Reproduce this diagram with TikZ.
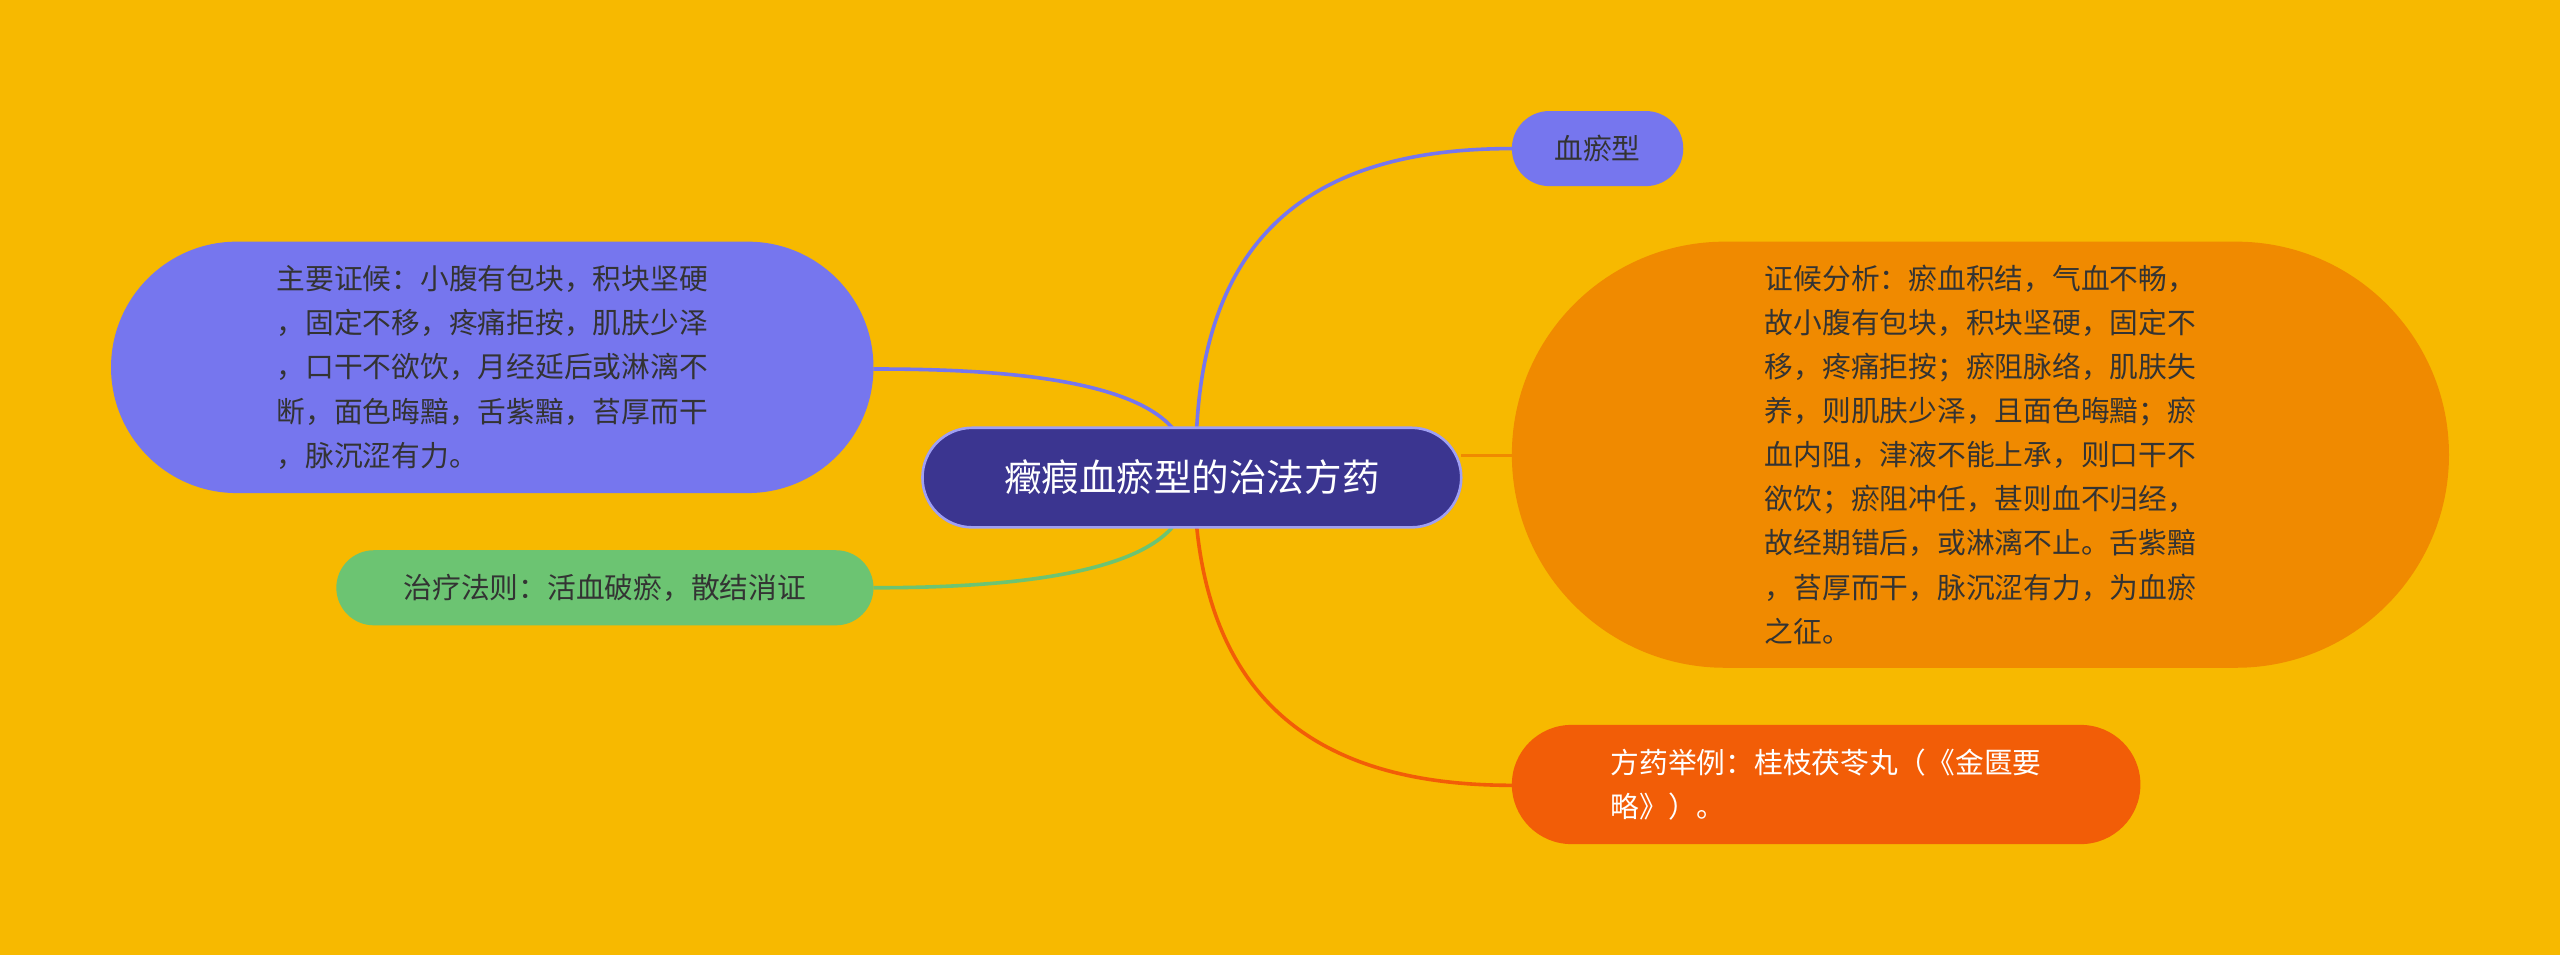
\documentclass[tikz,border=0pt]{standalone}
\usepackage{fontspec}
\newfontfamily\cjk{Noto Sans CJK SC}
\usetikzlibrary{shapes.misc}
\definecolor{bg}{HTML}{F7B900}
\definecolor{cen}{HTML}{3B3590}
\definecolor{pur}{HTML}{7676EE}
\definecolor{org}{HTML}{F08A00}
\definecolor{red}{HTML}{F25D07}
\definecolor{grn}{HTML}{6CC472}
\definecolor{txt}{HTML}{333333}
\begin{document}
\begin{tikzpicture}[x=0.5pt,y=-0.5pt,
  box/.style={rounded rectangle,inner sep=0pt,font=\cjk\fontsize{8.8}{13.5}\selectfont,text=txt,align=left},
  link/.style={line width=1.1pt}]
\fill[bg] (0,0) rectangle (1568,585);
\draw[link,pur] (733,262) .. controls (740,130) and (820,91) .. (926,91);
\draw[link,org] (895,279) -- (926,279);
\draw[link,red] (733,323) .. controls (745,440) and (820,481) .. (926,481);
\draw[link,pur] (718,262) .. controls (690,230) and (600,226) .. (535,226);
\draw[link,grn] (718,323) .. controls (690,355) and (600,360) .. (535,360);
\node[box,fill=cen,draw=pur!70,line width=0.8pt,minimum width=165pt,minimum height=30.5pt,text=white,font=\cjk\fontsize{11.5}{14}\selectfont] (c) at (730,292.5) {癥瘕血瘀型的治法方药};
\node[box,fill=pur,minimum width=52.5pt,minimum height=23pt] (a) at (978.5,91) {血瘀型};
\node[box,fill=org,minimum width=287pt,minimum height=130.5pt] (b) at (1213,278.5) {证候分析：瘀血积结，气血不畅，\\故小腹有包块，积块坚硬，固定不\\移，疼痛拒按；瘀阻脉络，肌肤失\\养，则肌肤少泽，且面色晦黯；瘀\\血内阻，津液不能上承，则口干不\\欲饮；瘀阻冲任，甚则血不归经，\\故经期错后，或淋漓不止。舌紫黯\\，苔厚而干，脉沉涩有力，为血瘀\\之征。};
\node[box,fill=red,minimum width=192.5pt,minimum height=36.5pt,text=white] (d) at (1118.5,480.5) {方药举例：桂枝茯苓丸（《金匮要\\略》）。};
\node[box,fill=pur,minimum width=233.5pt,minimum height=77pt] (e) at (301.5,225) {主要证候：小腹有包块，积块坚硬\\，固定不移，疼痛拒按，肌肤少泽\\，口干不欲饮，月经延后或淋漓不\\断，面色晦黯，舌紫黯，苔厚而干\\，脉沉涩有力。};
\node[box,fill=grn,minimum width=164.5pt,minimum height=23pt] (f) at (370.5,360) {治疗法则：活血破瘀，散结消证};
\end{tikzpicture}
\end{document}
